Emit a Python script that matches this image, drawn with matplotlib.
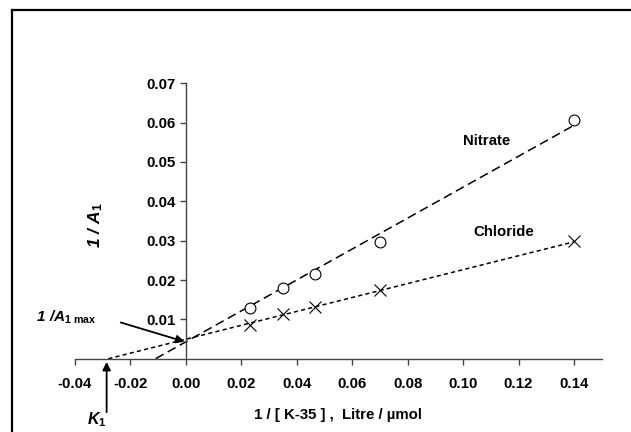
import matplotlib
matplotlib.use('Agg')
import matplotlib.pyplot as plt
from matplotlib.lines import Line2D
import numpy as np

plt.rcParams['font.family'] = ['Liberation Sans', 'DejaVu Sans']
plt.rcParams['font.weight'] = 'bold'
plt.rcParams['mathtext.fontset'] = 'custom'
plt.rcParams['mathtext.rm'] = 'Liberation Sans:italic:bold'
plt.rcParams['mathtext.it'] = 'Liberation Sans:italic:bold'
plt.rcParams['mathtext.sf'] = 'Liberation Sans:bold'
plt.rcParams['lines.scale_dashes'] = False

# 1/[K-35], Litre/umol
inv_conc = [0.0233, 0.0351, 0.0467, 0.0700, 0.1400]
nitrate = [0.0128, 0.0179, 0.0216, 0.0297, 0.0606]
chloride = [0.0085, 0.0114, 0.0131, 0.0175, 0.0298]

# fitted lines: intercept, slope, x range
nitrate_fit = (0.0043, 0.393, -0.0109, 0.142)
chloride_fit = (0.00495, 0.1768, -0.028, 0.140)

x_ticks = [-0.04, -0.02, 0.00, 0.02, 0.04, 0.06, 0.08, 0.10, 0.12, 0.14]
y_ticks = [0.01, 0.02, 0.03, 0.04, 0.05, 0.06, 0.07]

fig = plt.figure(figsize=(6.31, 4.32), dpi=100)
ax = fig.add_axes([0.1189, 0.1697, 0.8347, 0.6375])
ax.set_xlim(-0.04, 0.15)
ax.set_ylim(0, 0.07)

# frame round the picture (only left and top edges are visible)
fig.add_artist(Line2D([12 / 631, 12 / 631], [0, 1 - 10 / 432], color='black', lw=1.6, transform=fig.transFigure))
fig.add_artist(Line2D([12 / 631, 1], [1 - 10 / 432, 1 - 10 / 432], color='black', lw=1.6, transform=fig.transFigure))

for name, fit, dashes in [('nitrate', nitrate_fit, (6.5, 3.4)), ('chloride', chloride_fit, (3.0, 2.3))]:
    b, m, x0, x1 = fit
    xs = np.array([x0, x1])
    ax.plot(xs, b + m * xs, color='black', lw=1.1, dashes=dashes, clip_on=False)

ax.plot(inv_conc, nitrate, 'o', ms=7.8, mfc='white', mec='black', mew=0.8, ls='none', clip_on=False)
ax.plot(inv_conc, chloride, 'x', ms=8.5, mec='black', mew=0.8, ls='none', clip_on=False)

ax.spines['top'].set_visible(False)
ax.spines['right'].set_visible(False)
ax.spines['left'].set_position(('data', 0))
for s in ['left', 'bottom']:
    ax.spines[s].set_color('#444444')
    ax.spines[s].set_linewidth(1.0)

ax.set_xticks(x_ticks)
ax.set_xticklabels([f'{v:.2f}' for v in x_ticks])
ax.set_yticks(y_ticks)
ax.set_yticklabels([f'{v:.2f}' for v in y_ticks])
ax.tick_params(axis='both', direction='out', length=4, width=1, color='#444444',
               labelsize=10.8)
ax.tick_params(axis='x', pad=9.5)
ax.tick_params(axis='y', pad=3.5)

ax.set_xlabel('1 / [ K-35 ] ,  Litre / \u00b5mol', fontsize=10.8, fontweight='bold', labelpad=12)
ax.text(0.040, 0.485, r'$1\ /\ A_{\mathsf{1}}$', transform=ax.transAxes,
        rotation=90, ha='center', va='center', fontsize=12.5)

ax.text(0.1083, 0.0554, 'Nitrate', ha='center', va='center', fontsize=10.8, fontweight='bold')
ax.text(0.1148, 0.0322, 'Chloride', ha='center', va='center', fontsize=10.8, fontweight='bold')

ax.text(-0.0540, 0.0104, r'$1\ /A_{\mathsf{1\ max}}$', ha='left', va='center',
        fontsize=11, clip_on=False)
ax.annotate('', xy=(-0.0005, 0.00433), xytext=(-0.0235, 0.0092),
            arrowprops=dict(arrowstyle='-|>', color='black', lw=1.3, mutation_scale=12,
                            shrinkA=0, shrinkB=0), annotation_clip=False)

ax.text(-0.0356, -0.0155, r'$K_{\mathsf{1}}$', ha='left', va='center',
        fontsize=11.5, clip_on=False)
ax.annotate('', xy=(-0.0286, -0.0008), xytext=(-0.0286, -0.0136),
            arrowprops=dict(arrowstyle='-|>', color='black', lw=1.3, mutation_scale=12,
                            shrinkA=0, shrinkB=0), annotation_clip=False)

fig.savefig('out.png', dpi=100)
